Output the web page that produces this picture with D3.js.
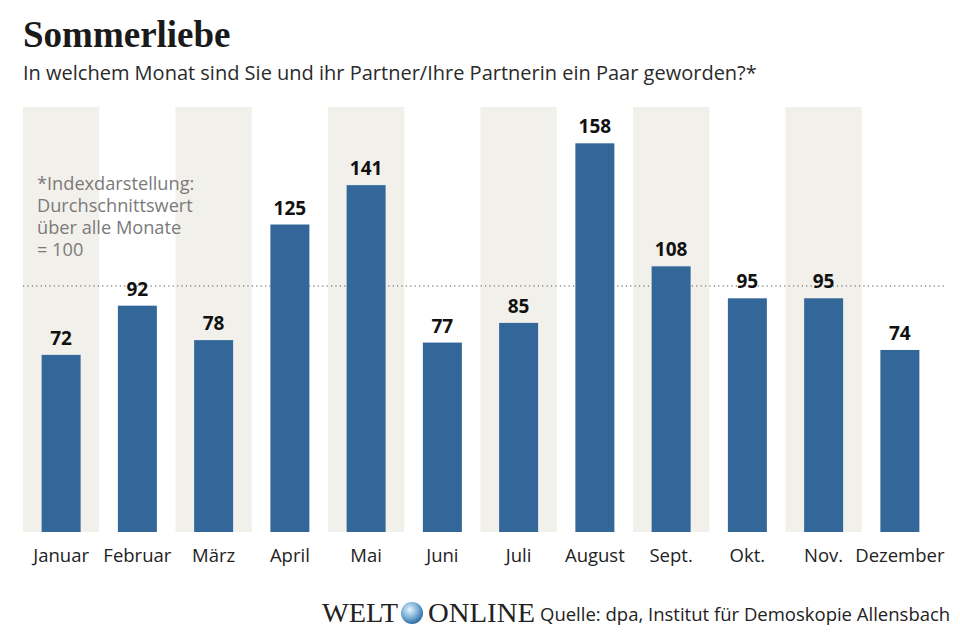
<!DOCTYPE html>
<html>
<head>
<meta charset="utf-8">
<script src="https://cdn.jsdelivr.net/npm/d3@7"></script>
<style>
  body { margin: 0; background: #fff; }
  svg { display: block; }
</style>
</head>
<body>
<div id="chart"></div>
<script>
const months = ['Januar', 'Februar', 'März', 'April', 'Mai', 'Juni', 'Juli', 'August', 'Sept.', 'Okt.', 'Nov.', 'Dezember'];
const values = [72, 92, 78, 125, 141, 77, 85, 158, 108, 95, 95, 74];
const average = 100;
const noteLines = ['*Indexdarstellung:', 'Durchschnittswert', 'über alle Monate', '= 100'];

const width = 960,
    height = 640,
    sans = '"Open Sans", "Noto Sans", sans-serif',
    serif = '"Liberation Serif", "DejaVu Serif", serif';

const svg = d3.select('#chart')
    .append('svg')
        .attr('width', width)
        .attr('height', height);

const x = d3.scaleBand()
    .domain(months)
    .range([23, 938])
    .padding(0);

const y = d3.scaleLinear()
    .domain([0, average])
    .range([532, 286]);

const barW = 39;

// background stripes for every other month
svg.append('g')
    .selectAll('rect')
    .data(months.filter((d, i) => i % 2 === 0))
    .enter()
    .append('rect')
        .attr('x', d => x(d))
        .attr('y', 107)
        .attr('width', x.bandwidth())
        .attr('height', y(0) - 107)
        .attr('fill', '#f2f0eb');

// average line
svg.append('line')
    .attr('x1', 23)
    .attr('x2', 945)
    .attr('y1', y(average))
    .attr('y2', y(average))
    .attr('stroke', '#555')
    .attr('stroke-width', 1)
    .attr('stroke-dasharray', '1.2,3.2');

svg.append('g')
    .selectAll('rect')
    .data(values)
    .enter()
    .append('rect')
        .attr('x', (d, i) => x(months[i]) + (x.bandwidth() - barW) / 2)
        .attr('y', d => y(d))
        .attr('width', barW)
        .attr('height', d => y(0) - y(d))
        .attr('fill', '#336699');

svg.append('g')
    .selectAll('text')
    .data(values)
    .enter()
    .append('text')
        .text(d => d)
        .attr('x', (d, i) => x(months[i]) + x.bandwidth() / 2)
        .attr('y', d => y(d) - 10)
        .attr('text-anchor', 'middle')
        .style('font-family', sans)
        .style('font-weight', 700)
        .style('font-size', '19px')
        .style('fill', '#111');

svg.append('g')
    .selectAll('text')
    .data(months)
    .enter()
    .append('text')
        .text(d => d)
        .attr('x', d => x(d) + x.bandwidth() / 2)
        .attr('y', 562)
        .attr('text-anchor', 'middle')
        .style('font-family', sans)
        .style('font-size', '18.5px')
        .style('fill', '#222');

svg.append('g')
    .selectAll('text')
    .data(noteLines)
    .enter()
    .append('text')
        .text(d => d)
        .attr('x', 37)
        .attr('y', (d, i) => 190 + i * 22)
        .style('font-family', sans)
        .style('font-size', '18.2px')
        .style('fill', '#7a7a7a');

svg.append('text')
    .text('Sommerliebe')
    .attr('x', 23)
    .attr('y', 47)
    .style('font-family', serif)
    .style('font-weight', 700)
    .style('font-size', '37px')
    .style('fill', '#1a1a1a');

svg.append('text')
    .text('In welchem Monat sind Sie und ihr Partner/Ihre Partnerin ein Paar geworden?*')
    .attr('x', 23)
    .attr('y', 80)
    .style('font-family', sans)
    .style('font-size', '20px')
    .style('fill', '#2a2a2a');

// footer
const footer = svg.append('g');
footer.append('text')
    .text('WELT')
    .attr('x', 322)
    .attr('y', 622)
    .attr('textLength', 76)
    .attr('lengthAdjust', 'spacingAndGlyphs')
    .style('font-family', serif)
    .style('font-size', '28px')
    .style('fill', '#222');

const defs = svg.append('defs');
const grad = defs.append('radialGradient')
    .attr('id', 'globe')
    .attr('cx', '40%')
    .attr('cy', '35%')
    .attr('r', '65%');
grad.append('stop').attr('offset', '0%').attr('stop-color', '#e8f3fb');
grad.append('stop').attr('offset', '55%').attr('stop-color', '#7fb3d9');
grad.append('stop').attr('offset', '100%').attr('stop-color', '#2e6ea6');
footer.append('circle')
    .attr('cx', 412)
    .attr('cy', 613)
    .attr('r', 11)
    .attr('fill', 'url(#globe)');

footer.append('text')
    .text('ONLINE')
    .attr('x', 428)
    .attr('y', 622)
    .attr('textLength', 107)
    .attr('lengthAdjust', 'spacingAndGlyphs')
    .style('font-family', serif)
    .style('font-size', '28px')
    .style('fill', '#222');

footer.append('text')
    .text('Quelle: dpa, Institut für Demoskopie Allensbach')
    .attr('x', 540)
    .attr('y', 621)
    .style('font-family', sans)
    .style('font-size', '18.5px')
    .style('fill', '#222');
</script>
</body>
</html>
